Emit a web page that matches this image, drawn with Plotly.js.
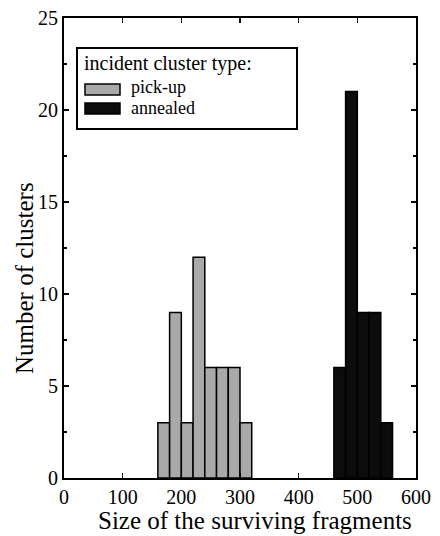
<!DOCTYPE html>
<html><head><meta charset="utf-8">
<script src="https://cdn.plot.ly/plotly-3.0.1.min.js"></script>
<style>html,body{margin:0;padding:0;background:#fff}#chart{width:440px;height:536px}</style>
</head><body><div id="chart"></div>
<script>
const binWidth = 20;
const pickupBinStarts = [160, 180, 200, 220, 240, 260, 280, 300];
const pickupCounts = [3, 9, 3, 12, 6, 6, 6, 3];
const annealedBinStarts = [460, 480, 500, 520, 540];
const annealedCounts = [6, 21, 9, 9, 3];
const seriesNames = ['pick-up', 'annealed'];
const seriesColors = ['#a9a9a9', '#0c0c0c'];
const legendTitle = 'incident cluster type:';
const xTitle = 'Size of the surviving fragments';
const yTitle = 'Number of clusters';

const font = '"Liberation Serif", "Times New Roman", serif';

// plot area in pixels (for placing the hand-drawn legend and titles)
const M = {l:64, r:24, t:18, b:58}, W = 440, H = 536;
const pw = W - M.l - M.r, ph = H - M.t - M.b;
const px = x => (x - M.l) / pw;
const py = y => (H - M.b - y) / ph;

function centers(starts){ return starts.map(s => s + binWidth/2); }

const traces = [
  {type:'bar', name:seriesNames[0], x:centers(pickupBinStarts), y:pickupCounts, width:binWidth,
   marker:{color:seriesColors[0], line:{color:'#000', width:1.5}}},
  {type:'bar', name:seriesNames[1], x:centers(annealedBinStarts), y:annealedCounts, width:binWidth,
   marker:{color:seriesColors[1], line:{color:'#000', width:1.5}}}
];

const shapes = [
  {type:'rect', xref:'paper', yref:'paper', x0:px(77), x1:px(297), y0:py(48), y1:py(129),
   line:{color:'#000', width:2}, fillcolor:'#fff', layer:'above'},
  {type:'rect', xref:'paper', yref:'paper', x0:px(85), x1:px(120), y0:py(84), y1:py(95),
   line:{color:'#000', width:1.5}, fillcolor:seriesColors[0], layer:'above'},
  {type:'rect', xref:'paper', yref:'paper', x0:px(85), x1:px(120), y0:py(103), y1:py(114),
   line:{color:'#000', width:1.5}, fillcolor:seriesColors[1], layer:'above'}
];

const ann = (text, x, y, size, extra) => Object.assign({text, xref:'paper', yref:'paper', x, y,
  showarrow:false, font:{family:font, size, color:'#000'}}, extra || {});

const annotations = [
  ann(legendTitle, px(82), py(64), 20, {xanchor:'left', yanchor:'middle'}),
  ann(seriesNames[0], px(129), py(87), 18, {xanchor:'left', yanchor:'middle'}),
  ann(seriesNames[1], px(129), py(108), 18, {xanchor:'left', yanchor:'middle'}),
  ann(xTitle, px(255), py(520), 25, {xanchor:'center', yanchor:'middle'}),
  ann(yTitle, px(24), py(278), 25, {xanchor:'center', yanchor:'middle', textangle:-90})
];

const layout = {
  width:W, height:H,
  margin:M,
  paper_bgcolor:'#fff', plot_bgcolor:'#fff',
  barmode:'overlay',
  font:{family:font, color:'#000', size:20},
  showlegend:false,
  shapes, annotations,
  xaxis:{range:[0,600], dtick:100, tick0:0, ticks:'inside', ticklen:5, tickwidth:1.2, tickcolor:'#000',
    showline:true, linecolor:'#000', linewidth:2, mirror:'allticks', showgrid:false, zeroline:false,
    tickfont:{family:font, size:20}, fixedrange:true},
  yaxis:{range:[0,25], dtick:5, tick0:0, ticks:'inside', ticklen:5, tickwidth:1.2, tickcolor:'#000',
    showline:true, linecolor:'#000', linewidth:2, mirror:'allticks', showgrid:false, zeroline:false,
    minor:{dtick:2.5, ticks:'inside', ticklen:3, tickcolor:'#000', showgrid:false},
    tickfont:{family:font, size:20}, fixedrange:true}
};

Plotly.newPlot('chart', traces, layout, {displayModeBar:false, staticPlot:true});
</script></body></html>
